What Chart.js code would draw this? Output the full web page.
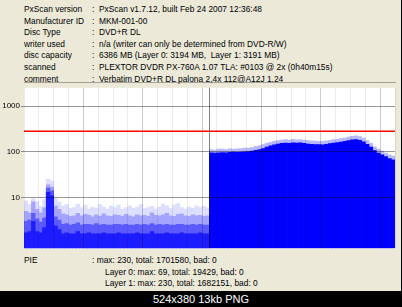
<!DOCTYPE html>
<html>
<head>
<meta charset="utf-8">
<script src="https://cdn.jsdelivr.net/npm/chart.js@4.4.0/dist/chart.umd.min.js"></script>
<style>
    body { margin: 0; width: 402px; height: 307px; background: #000; overflow: hidden; font-family: 'Liberation Sans', Arial, sans-serif; }
    #panel { position: absolute; left: 0; top: 0; width: 401px; height: 291px; background: #ECE9D8; }
    .t { position: absolute; font-size: 8.4px; line-height: 10px; color: #000; white-space: nowrap; }
    #wrap { position: absolute; left: 0; top: 82px; width: 402px; height: 172px; }
    #caption { position: absolute; left: 0; top: 291px; width: 402px; height: 16px; line-height: 16px; text-align: center; color: #fff; font-size: 11px; }
</style>
</head>
<body>
<div id="panel">
    <div class="t" style="left:24px;top:4px">PxScan version</div>
    <div class="t" style="left:92px;top:4px">:&nbsp; PxScan v1.7.12, built Feb 24 2007 12:36:48</div>
    <div class="t" style="left:24px;top:15.6px">Manufacturer ID</div>
    <div class="t" style="left:92px;top:15.6px">:&nbsp; MKM-001-00</div>
    <div class="t" style="left:24px;top:27.2px">Disc Type</div>
    <div class="t" style="left:92px;top:27.2px">:&nbsp; DVD+R DL</div>
    <div class="t" style="left:24px;top:38.8px">writer used</div>
    <div class="t" style="left:92px;top:38.8px">:&nbsp; n/a (writer can only be determined from DVD-R/W)</div>
    <div class="t" style="left:24px;top:50.4px">disc capacity</div>
    <div class="t" style="left:92px;top:50.4px">:&nbsp; 6386 MB (Layer 0: 3194 MB,&nbsp; Layer 1: 3191 MB)</div>
    <div class="t" style="left:24px;top:62px">scanned</div>
    <div class="t" style="left:92px;top:62px">:&nbsp; PLEXTOR DVDR PX-760A 1.07 TLA: #0103 @ 2x (0h40m15s)</div>
    <div class="t" style="left:24px;top:73.6px">comment</div>
    <div class="t" style="left:92px;top:73.6px">:&nbsp; Verbatim DVD+R DL palona 2,4x 112@A12J 1.24</div>

    <div id="wrap"><canvas id="pieChart" width="402" height="172"></canvas></div>

    <div class="t" style="left:24px;top:255px">PIE</div>
    <div class="t" style="left:92px;top:255px">: max: 230, total: 1701580, bad: 0</div>
    <div class="t" style="left:105px;top:266.5px">Layer 0: max: 69, total: 19429, bad: 0</div>
    <div class="t" style="left:105px;top:277.7px">Layer 1: max: 230, total: 1682151, bad: 0</div>
</div>
<div id="caption">524x380 13kb PNG</div>

<script>
// PIE per sample bin, layer 0 (bands of sample density: solid / mid / light / max)
var solidL0 = [1.7, 1.8, 3.0, 1.8, 1.7, 2.2, 13, 11, 2.4, 2.0,
    1.6, 1.7, 1.6, 1.6, 1.8, 1.6, 1.6, 1.7, 1.6, 1.6,
    1.6, 1.7, 1.6, 1.6, 1.6, 1.7, 1.6, 1.6, 1.6, 1.6,
    1.7, 1.6, 1.6, 1.6, 1.8, 1.6, 1.6, 1.6, 1.7, 1.6,
    1.6, 1.6, 1.7, 1.6, 1.6, 1.6, 1.6, 1.7, 1.6, 1.6];
var midL0 = [3.0, 3.2, 4.5, 3.4, 2.9, 3.6, 16, 14, 3.8, 3.2,
    2.6, 2.7, 2.5, 2.6, 2.8, 2.5, 2.6, 2.6, 2.5, 2.7,
    2.5, 2.6, 2.5, 2.5, 2.6, 2.6, 2.5, 2.6, 2.5, 2.5,
    2.6, 2.5, 2.6, 2.5, 2.7, 2.5, 2.6, 2.5, 2.6, 2.5,
    2.5, 2.6, 2.6, 2.5, 2.5, 2.6, 2.5, 2.6, 2.5, 2.5];
var lightL0 = [5.0, 4.6, 8.0, 5.5, 4.6, 6.0, 19, 17, 6.5, 5.5,
    4.4, 4.2, 3.9, 4.0, 4.5, 4.0, 4.3, 4.1, 3.8, 4.2,
    3.9, 4.4, 4.0, 3.9, 4.2, 4.1, 3.9, 4.3, 4.0, 3.8,
    4.2, 4.0, 4.1, 3.9, 4.6, 4.1, 4.0, 4.2, 4.5, 4.0,
    3.9, 4.3, 4.4, 4.0, 3.9, 4.2, 4.0, 4.1, 3.9, 4.0];
var maxL0 = [8.5, 7.0, 9.5, 8.0, 6.5, 9.0, 25, 23, 9.5, 8.0,
    6.5, 7.0, 5.8, 6.0, 7.2, 6.0, 6.8, 5.6, 6.2, 5.8,
    7.0, 6.2, 5.6, 6.5, 6.0, 6.8, 5.5, 6.0, 6.6, 5.8,
    6.2, 7.0, 5.8, 6.0, 6.4, 5.6, 6.2, 7.2, 6.6, 5.8,
    6.8, 7.4, 6.0, 5.6, 6.2, 5.8, 6.6, 6.0, 6.4, 5.9];

// layer 1
var solidL1 = [95, 93, 95, 96, 95, 97, 98, 97, 99, 100,
    101, 103, 107, 112, 118, 126, 134, 142, 148, 152,
    155, 152, 156, 154, 156, 152, 148, 146, 144, 143,
    142, 146, 150, 154, 158, 162, 168, 176, 182, 184,
    178, 164, 146, 126, 106, 94, 86, 78, 71, 67];
var maxL1 = [112, 108, 114, 114, 112, 116, 114, 116, 118, 120,
    120, 124, 130, 136, 144, 152, 160, 168, 176, 180,
    184, 180, 186, 182, 184, 180, 176, 174, 172, 170,
    170, 174, 178, 184, 188, 194, 200, 210, 218, 222,
    214, 198, 176, 152, 128, 114, 104, 94, 86, 80];

var pieLimit = 280;
var yTicks = [10, 100, 1000];
var layerBreak = 12.5;

(function () {
    var nBins = solidL0.length + solidL1.length;
    var labels = [];
    for (let i = 0; i < nBins; i++) {
        labels.push(i);
    }
    var empty = solidL1.map(function () { return null; });
    var layer0Len = solidL0.length;

    const plotBg = {
        id: 'plotBg',
        beforeDraw: function (chart) {
            const a = chart.chartArea;
            const c = chart.ctx;
            c.save();
            c.fillStyle = '#ffffff';
            c.fillRect(a.left, a.top, a.right - a.left, a.bottom - a.top);
            c.restore();
        }
    };

    function bars(values, color) {
        return {
            type: 'bar',
            xAxisID: 'x',
            data: values,
            backgroundColor: color,
            borderWidth: 0,
            barPercentage: 1,
            categoryPercentage: 1,
            grouped: false
        };
    }

    const data = {
        labels: labels,
        datasets: [
            bars(solidL0.concat(solidL1), function (c) { return c.dataIndex < layer0Len ? '#1c1cff' : '#0000ff'; }),
            bars(midL0.concat(empty), '#5a5aff'),
            bars(lightL0.concat(empty), '#a4a4ff'),
            bars(maxL0.concat(maxL1), function (c) { return c.dataIndex < layer0Len ? '#dedeff' : '#b8b8ff'; }),
            {
                type: 'line',
                xAxisID: 'x2',
                data: [{ x: 0, y: pieLimit }, { x: 25, y: pieLimit }],
                borderColor: '#ff0000',
                borderWidth: 1.6,
                pointRadius: 0,
                order: -1
            }
        ]
    };

    const config = {
        type: 'bar',
        data: data,
        options: {
            responsive: false,
            animation: false,
            devicePixelRatio: 1,
            layout: { padding: { top: 5, right: 7, bottom: 4, left: 0 } },
            plugins: { legend: { display: false }, tooltip: { enabled: false } },
            scales: {
                x: { type: 'category', stacked: true, display: false },
                x2: {
                    type: 'linear', position: 'bottom', min: 0, max: 25,
                    offset: false,
                    afterBuildTicks: function (axis) {
                        axis.ticks.push({ value: layerBreak });
                        axis.ticks.sort(function (a, b) { return a.value - b.value; });
                    },
                    ticks: { display: false, stepSize: 1 },
                    grid: {
                        z: 1,
                        offset: false,
                        drawTicks: false,
                        lineWidth: 1,
                        color: function (c) {
                            if (!c.tick) return 'rgba(0,0,0,0.08)';
                            var v = c.tick.value;
                            if (v === layerBreak) return 'rgba(0,0,0,0.5)';
                            if (v > 0 && v < 25 && v % 4 === 0) return 'rgba(0,0,0,0.2)';
                            return 'rgba(0,0,0,0.08)';
                        }
                    },
                    border: { display: true, color: '#5a5a5a', width: 1 }
                },
                y: {
                    type: 'logarithmic', min: 0.78, max: 2500,
                    afterBuildTicks: function (axis) {
                        axis.ticks = yTicks.map(function (v) { return { value: v }; });
                    },
                    afterFit: function (s) { s.width = 24; },
                    ticks: {
                        autoSkip: false,
                        padding: 1,
                        color: '#000',
                        font: { size: 8, family: 'Liberation Sans' },
                        callback: function (v) { return String(v); }
                    },
                    grid: { z: 1, color: 'rgba(0,0,0,0.4)', tickLength: 3, lineWidth: 1 },
                    border: { display: false }
                }
            }
        },
        plugins: [plotBg]
    };

    const pieChart = new Chart(document.getElementById('pieChart'), config);
})();
</script>
</body>
</html>
